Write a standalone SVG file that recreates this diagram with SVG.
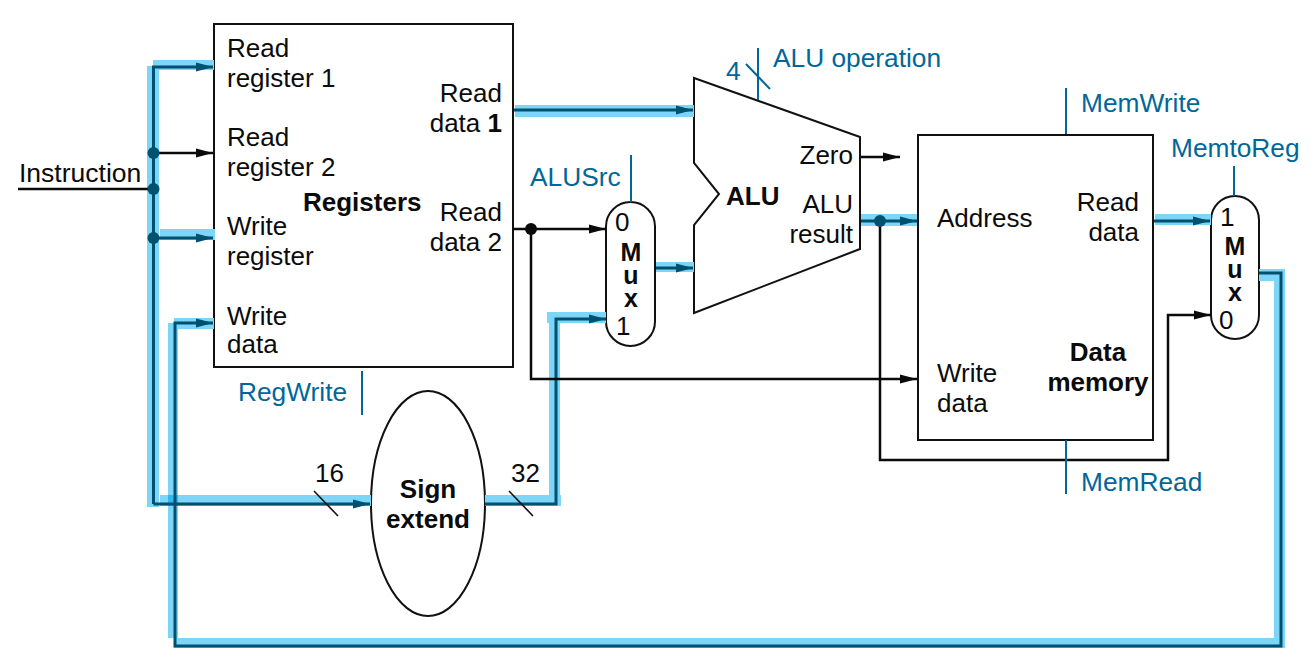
<svg xmlns="http://www.w3.org/2000/svg" width="1315" height="668" viewBox="0 0 1315 668">
<style>
text{font-family:"Liberation Sans",Arial,sans-serif;font-size:26px;fill:#0b0b0b}
.b{font-weight:bold}
.c{fill:#00679a;font-size:26.3px}
.m{text-anchor:middle}
.e{text-anchor:end}
.v{font-size:25px;writing-mode:vertical-rl;text-orientation:upright;letter-spacing:-5px}
.shape{fill:#fff;stroke:#111;stroke-width:2}
.hl{fill:#7dd6f7;stroke:none}
.k{fill:none;stroke:#0a0a0a;stroke-width:2.5}
.t{fill:none;stroke:#00506f;stroke-width:3}
.ctl{fill:none;stroke:#00679a;stroke-width:2}
.sl{fill:none;stroke:#111;stroke-width:1.6}
.da{marker-end:url(#ah)}
.ka{marker-end:url(#ak)}
</style>
<defs>
<marker id="ak" markerUnits="userSpaceOnUse" markerWidth="18" markerHeight="12" refX="17" refY="6" orient="auto"><path d="M0 1.500L17 6L0 10.500Z" fill="#0a0a0a"/></marker>
<marker id="ah" markerUnits="userSpaceOnUse" markerWidth="18" markerHeight="12" refX="17" refY="6" orient="auto"><path d="M0 1.500L17 6L0 10.500Z" fill="#00506f"/></marker>
</defs>
<rect width="1315" height="668" fill="#fff"/>
<g id="registers"><rect class="shape" x="214" y="24" width="299" height="343"/>
<text x="227" y="57">Read</text><text x="227" y="87">register 1</text>
<text x="227" y="146">Read</text><text x="227" y="176">register 2</text>
<text x="227" y="235">Write</text><text x="227" y="265">register</text>
<text x="227" y="325">Write</text><text x="227" y="353">data</text>
<text class="b" x="303" y="211">Registers</text>
<text class="e" x="502" y="102">Read</text><text class="e" x="502" y="132">data <tspan class="b">1</tspan></text>
<text class="e" x="502" y="221">Read</text><text class="e" x="502" y="251">data 2</text></g>
<g id="alu"><path class="shape" d="M694 78L860 137V249L694 313V225L719 194L694 163Z"/>
<text class="b" x="726" y="205">ALU</text><text class="e" x="853" y="164">Zero</text>
<text class="e" x="853" y="213">ALU</text><text class="e" x="853" y="243">result</text></g>
<g id="data-memory"><rect class="shape" x="918" y="135" width="235" height="305"/>
<text x="937" y="227">Address</text><text class="e" x="1139" y="211">Read</text><text class="e" x="1139" y="241">data</text>
<text x="937" y="382">Write</text><text x="937" y="412">data</text>
<text class="b m" x="1098" y="361">Data</text><text class="b m" x="1098" y="391">memory</text></g>
<g id="alusrc-mux"><rect class="shape" x="606" y="202" width="49" height="144" rx="24.500"/>
<text x="615" y="231">0</text><text class="b v" x="631" y="238">Mux</text><text x="616" y="335">1</text></g>
<g id="memtoreg-mux"><rect class="shape" x="1211" y="196" width="48" height="143" rx="24"/>
<text x="1220" y="226">1</text><text class="b v" x="1235" y="232">Mux</text><text x="1219" y="329">0</text></g>
<g id="sign-extend"><ellipse class="shape" cx="428" cy="503.500" rx="57" ry="112.500"/>
<text class="b m" x="428" y="498">Sign</text><text class="b m" x="428" y="528">extend</text></g>
<g id="connectors">
<rect class="hl" x="147" y="66" width="12" height="441"/>
<rect class="hl" x="153" y="60" width="61" height="10"/>
<rect class="hl" x="160" y="229" width="55" height="11"/>
<rect class="hl" x="168" y="323" width="10" height="315"/>
<rect class="hl" x="174" y="318" width="40" height="11"/>
<rect class="hl" x="160" y="495" width="211" height="11"/>
<rect x="168" y="495" width="10" height="11" fill="#2fb9ee"/>
<rect class="hl" x="174" y="638" width="1111" height="10"/>
<rect class="hl" x="1274" y="269" width="11" height="373"/>
<rect class="hl" x="1259" y="269" width="26" height="12"/>
<rect class="hl" x="515" y="105" width="179" height="12"/>
<rect class="hl" x="656" y="262" width="38" height="10"/>
<rect class="hl" x="549" y="312" width="11" height="184"/>
<rect class="hl" x="547" y="312" width="59" height="11"/>
<rect class="hl" x="485" y="495" width="76" height="11"/>
<rect class="hl" x="861" y="214" width="56" height="12"/>
<rect class="hl" x="1155" y="214" width="56" height="11"/>
<path class="t da" d="M153.500 504V67H213"/>
<path class="t da" d="M153.500 238H213"/>
<path class="t da" d="M153.500 504H370"/>
<path class="t da" d="M1259 273H1281V646H175V323H213"/>
<path class="t da" d="M514 110H693"/>
<path class="t da" d="M656 268H693"/>
<path class="t da" d="M485 504H556V319H606"/>
<path class="t da" d="M861 221H917"/>
<path class="t da" d="M1154 221H1210"/>
<path class="k" d="M18 189H153"/>
<path class="k ka" d="M153.500 153H213"/>
<path class="k ka" d="M513 229H606"/>
<path class="k ka" d="M531 229V379H917"/>
<path class="k ka" d="M880 221V460H1168V315H1211"/>
<path class="k ka" d="M861 157H900"/>
<circle cx="153.500" cy="153" r="6" fill="#00506f"/>
<circle cx="153.500" cy="189" r="6" fill="#00506f"/>
<circle cx="153.500" cy="238" r="6" fill="#00506f"/>
<circle cx="531" cy="229" r="6" fill="#0a0a0a"/>
<circle cx="880" cy="221" r="6" fill="#00506f"/>
<path class="ctl" d="M631 155V202M758 48V100M746 64L770 89M1066 88V134M1066 440V494M1234 166V196M362 371V415"/>
<path class="sl" d="M314 491L338 516M509 491L533 516"/>
</g>
<g id="labels">
<text style="font-size:26.500px" x="19" y="182">Instruction</text>
<text class="c" x="530" y="186">ALUSrc</text>
<text class="c" x="726" y="80">4</text>
<text class="c" x="773" y="67">ALU operation</text>
<text class="c" x="1081" y="112">MemWrite</text>
<text class="c" x="1171" y="157">MemtoReg</text>
<text class="c" x="1081" y="491">MemRead</text>
<text class="c" x="238" y="401">RegWrite</text>
<text x="315" y="482">16</text>
<text x="511" y="482">32</text>
</g>
</svg>
